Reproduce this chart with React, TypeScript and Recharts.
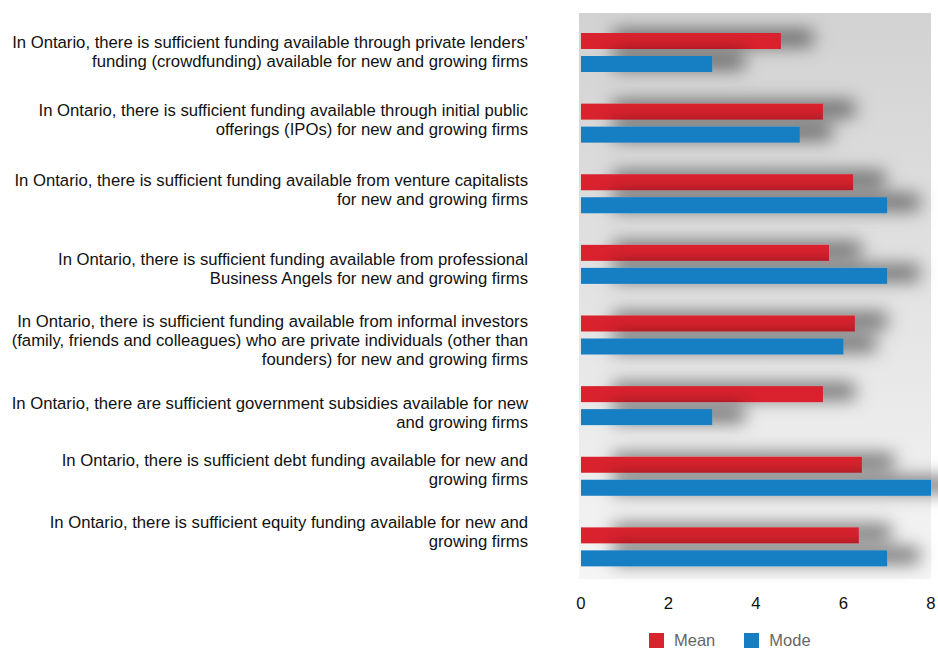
import { BarChart, Bar, XAxis, YAxis } from "recharts";

// statements, top to bottom
const STATEMENTS = [
  "In Ontario, there is sufficient funding available through private lenders' funding (crowdfunding) available for new and growing firms",
  "In Ontario, there is sufficient funding available through initial public offerings (IPOs) for new and growing firms",
  "In Ontario, there is sufficient funding available from venture capitalists for new and growing firms",
  "In Ontario, there is sufficient funding available from professional Business Angels for new and growing firms",
  "In Ontario, there is sufficient funding available from informal investors (family, friends and colleagues) who are private individuals (other than founders) for new and growing firms",
  "In Ontario, there are sufficient government subsidies available for new and growing firms",
  "In Ontario, there is sufficient debt funding available for new and growing firms",
  "In Ontario, there is sufficient equity funding available for new and growing firms",
];

// how each statement wraps in the reference
const LABEL_LINES = [
  ["In Ontario, there is sufficient funding available through private lenders'", "funding (crowdfunding) available for new and growing firms"],
  ["In Ontario, there is sufficient funding available through initial public", "offerings (IPOs) for new and growing firms"],
  ["In Ontario, there is sufficient funding available from venture capitalists", "for new and growing firms"],
  ["In Ontario, there is sufficient funding available from professional", "Business Angels for new and growing firms"],
  [
    "In Ontario, there is sufficient funding available from informal investors",
    "(family, friends and colleagues) who are private individuals (other than",
    "founders) for new and growing firms",
  ],
  ["In Ontario, there are sufficient government subsidies available for new", "and growing firms"],
  ["In Ontario, there is sufficient debt funding available for new and", "growing firms"],
  ["In Ontario, there is sufficient equity funding available for new and", "growing firms"],
];

const MEAN = [4.57, 5.53, 6.22, 5.67, 6.26, 5.53, 6.42, 6.35];
const MODE = [3, 5, 7, 7, 6, 3, 8, 7];
const X_TICKS = [0, 2, 4, 6, 8];

const SERIES = [
  { key: "mean", name: "Mean", color: "#D9232D" },
  { key: "mode", name: "Mode", color: "#157EC2" },
];

// small vertical nudges so labels sit where the reference put them
const LABEL_NUDGE = [-1, -3, -4, 4.5, 5.5, 7.5, -6, -15.5];

const FONT = "'Liberation Sans', Arial, sans-serif";

const rows = STATEMENTS.map((s, i) => ({
  statement: s,
  mean: MEAN[i],
  mode: MODE[i],
}));

function StatementTick(props: any) {
  const { x, y, payload } = props;
  const i = STATEMENTS.indexOf(payload.value);
  const lines = LABEL_LINES[i] ?? [payload.value];
  const lh = 19;
  const start = y + (LABEL_NUDGE[i] ?? 0) - ((lines.length - 1) * lh) / 2;
  return (
    <text textAnchor="end" fontSize={16.7} fill="#111" fontFamily={FONT}>
      {lines.map((ln, k) => (
        <tspan key={k} x={x} y={start + k * lh} dy="0.35em">
          {ln}
        </tspan>
      ))}
    </text>
  );
}

function ShadowBar(props: any) {
  const { x, y, width, height, fill } = props;
  if (!width || width <= 0) return null;
  return <rect x={x} y={y} width={width} height={height} fill={fill} filter="url(#barShadow)" />;
}

export default function App() {
  return (
    <div
      style={{
        position: "absolute",
        left: 0,
        top: 0,
        width: 938,
        height: 649,
        overflow: "hidden",
        background: "#fff",
        fontFamily: FONT,
      }}
    >
      {/* plot background */}
      <div
        style={{
          position: "absolute",
          left: 579,
          top: 13,
          width: 352,
          height: 566,
          background: "linear-gradient(to bottom, #d2d2d2 0%, #e3e3e3 50%, #f5f5f5 100%)",
        }}
      />
      <div style={{ position: "absolute", left: 0, top: 0 }}>
        <BarChart
          width={938}
          height={649}
          data={rows}
          layout="vertical"
          margin={{ top: 17, right: 7, bottom: 37, left: 0 }}
          barSize={16}
          barGap={7}
        >
          <defs>
            <filter
              id="barShadow"
              filterUnits="userSpaceOnUse"
              x={560}
              y={0}
              width={378}
              height={649}
            >
              <feDropShadow dx={32} dy={-3} stdDeviation={9} floodColor="#000" floodOpacity={0.55} />
            </filter>
          </defs>
          <XAxis
            type="number"
            domain={[0, 8]}
            ticks={X_TICKS}
            axisLine={false}
            tickLine={false}
            tickSize={0}
            tickMargin={15}
            height={30}
            tick={{ fill: "#111", fontSize: 16.7, fontFamily: FONT }}
          />
          <YAxis
            type="category"
            dataKey="statement"
            width={581}
            axisLine={false}
            tickLine={false}
            tickSize={0}
            tickMargin={53}
            interval={0}
            tick={<StatementTick />}
          />
          {SERIES.map((s) => (
            <Bar
              key={s.key}
              dataKey={s.key}
              name={s.name}
              fill={s.color}
              shape={<ShadowBar />}
              isAnimationActive={false}
            />
          ))}
        </BarChart>
      </div>
      {/* legend */}
      <div
        style={{
          position: "absolute",
          left: 649,
          top: 633,
          display: "flex",
          alignItems: "center",
          height: 15,
        }}
      >
        {SERIES.map((s, i) => (
          <div
            key={s.key}
            style={{ display: "flex", alignItems: "center", marginLeft: i === 0 ? 0 : 29 }}
          >
            <div style={{ width: 15, height: 15, background: s.color }} />
            <span style={{ marginLeft: 10, fontSize: 16.5, lineHeight: "15px", color: "#666" }}>
              {s.name}
            </span>
          </div>
        ))}
      </div>
    </div>
  );
}
